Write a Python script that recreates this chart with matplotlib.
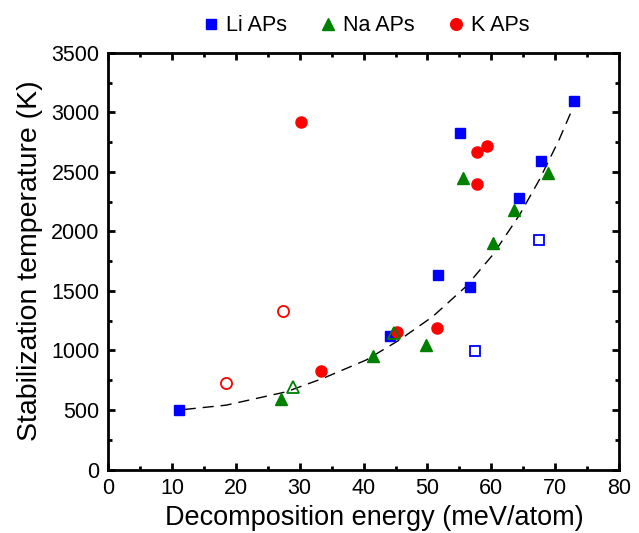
import numpy as np
import matplotlib
matplotlib.use('Agg')
import matplotlib.pyplot as plt
from matplotlib.ticker import MultipleLocator

plt.rcParams['font.family'] = ['Liberation Sans', 'DejaVu Sans']

# Li APs
li_x = [11.1, 44.1, 51.6, 55.1, 56.7, 64.3, 67.7, 73.0]
li_y = [500, 1122, 1637, 2824, 1534, 2284, 2592, 3097]
li_open_x = [57.5, 67.5]
li_open_y = [997, 1926]

# Na APs
na_x = [27.1, 41.4, 49.7, 55.5, 60.2, 63.5, 68.9]
na_y = [590, 954, 1049, 2452, 1901, 2181, 2489]
na_open_x = [29.0, 44.8]
na_open_y = [690, 1150]

# K APs
k_x = [30.2, 33.3, 45.3, 51.5, 57.7, 57.8, 59.3]
k_y = [2917, 828, 1158, 1189, 2668, 2394, 2718]
k_open_x = [18.5, 27.4]
k_open_y = [729, 1332]

# dashed guide curve
fit_x = [12.0, 18.5, 27.9, 33.6, 40.4, 45.6, 50.8, 56.0, 60.2, 64.4, 67.5, 70.6, 72.4]
fit_y = [505, 541, 653, 765, 920, 1088, 1284, 1536, 1802, 2138, 2433, 2770, 2994]

fig = plt.figure(figsize=(6.39, 5.33), dpi=100)
ax = fig.add_axes([0.169, 0.119, 0.8, 0.782])

ax.plot(fit_x, fit_y, ls=(0, (8, 5)), color='black', lw=1.0, zorder=1)

blue, green, red = '#0000ff', '#008000', '#ff0000'
ax.plot(li_x, li_y, 's', color=blue, ms=7, ls='none', label='Li APs', zorder=3)
ax.plot(li_open_x, li_open_y, 's', mec=blue, mfc='white', mew=1.3, ms=7, ls='none', zorder=3)
ax.plot(na_x, na_y, '^', color=green, ms=8.5, ls='none', label='Na APs', zorder=3)
ax.plot(na_open_x, na_open_y, '^', mec=green, mfc='none', mew=1.3, ms=8.5, ls='none', zorder=4)
ax.plot(k_x, k_y, 'o', color=red, ms=8, ls='none', label='K APs', zorder=3)
ax.plot(k_open_x, k_open_y, 'o', mec=red, mfc='white', mew=1.3, ms=8, ls='none', zorder=3)

ax.set_xlim(0, 80)
ax.set_ylim(0, 3500)
ax.xaxis.set_major_locator(MultipleLocator(10))
ax.xaxis.set_minor_locator(MultipleLocator(5))
ax.yaxis.set_major_locator(MultipleLocator(500))
ax.yaxis.set_minor_locator(MultipleLocator(250))
ax.tick_params(which='both', direction='in', top=True, right=True, width=2, labelsize=15.5)
ax.tick_params(which='major', length=5, pad=6)
ax.tick_params(which='minor', length=3)
for s in ax.spines.values():
    s.set_linewidth(2)

ax.set_xlabel('Decomposition energy (meV/atom)', fontsize=19.5, labelpad=2)
ax.xaxis.set_label_coords(0.52, -0.085)
ax.set_ylabel('Stabilization temperature (K)', fontsize=20.5, labelpad=6)

ax.legend(loc='center', bbox_to_anchor=(0.5, 1.065), ncol=3, frameon=False,
          fontsize=15.5, handletextpad=0.1, columnspacing=1.3, markerscale=1.05,
          handlelength=1.2)

fig.savefig('out.png', dpi=100)
